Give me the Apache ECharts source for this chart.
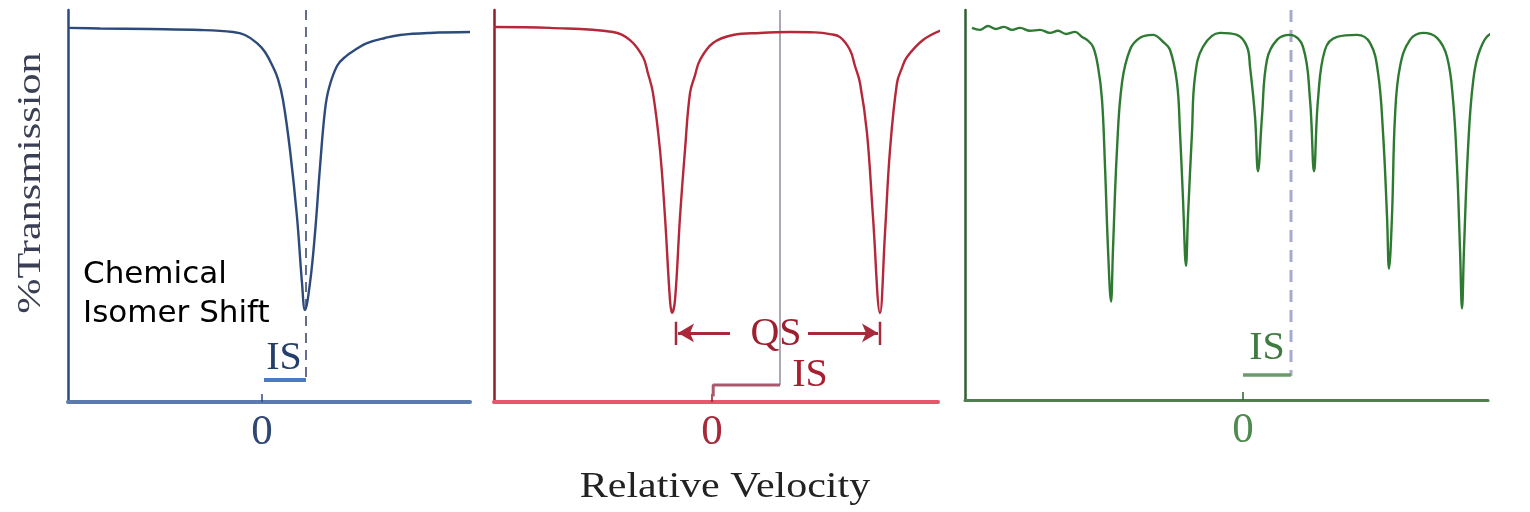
<!DOCTYPE html>
<html>
<head>
<meta charset="utf-8">
<script src="https://cdn.jsdelivr.net/npm/echarts@6/dist/echarts.min.js"></script>
<style>
html,body{margin:0;padding:0;background:#fff;}
#chart{width:1530px;height:512px;}
</style>
</head>
<body>
<div id="chart"></div>
<script>
// ---------- DATA (relative velocity, % transmission) ----------
const blueV = [-4.85,-4.05,-2.8,-1.55,-0.725,-0.425,-0.125,0.075,0.275,0.4,0.525,0.7,0.875,1.0,1.075,1.2,1.325,1.45,1.575,1.675,1.875,2.075,2.4,2.625,3.075,3.45,4.2,5.2];
const blueT = [100.04,100.01,99.98,99.93,99.82,99.66,99.23,98.75,97.95,97.3,96.18,93.5,89.91,86.38,84.93,86.38,89.05,92.59,95.64,96.82,98.0,98.48,98.96,99.23,99.50,99.66,99.77,99.82];

const redV = [-5.45,-4.05,-2.475,-2.05,-1.725,-1.6,-1.475,-1.3,-1.175,-1.05,-1.0,-0.925,-0.8,-0.675,-0.55,-0.425,-0.3,0.025,0.525,1.2,1.95,2.575,2.95,3.2,3.45,3.575,3.7,3.875,4.025,4.2,4.325,4.45,4.625,4.75,4.875,5.275,5.75];
const redT = [100.09,100.04,99.82,99.39,98.48,97.6,96.55,93.5,89.91,85.46,84.77,85.46,89.91,93.5,96.55,97.5,98.32,99.23,99.66,99.77,99.82,99.80,99.71,99.55,98.86,98.0,97.09,94.41,89.91,84.77,89.05,93.5,97.09,97.9,98.48,99.39,99.93];

const greenV = [-6.775,-6.575,-6.375,-6.175,-5.975,-5.775,-5.575,-5.325,-5.075,-4.825,-4.625,-4.425,-4.2,-4.025,
  -3.9,-3.75,-3.625,-3.525,-3.45,-3.375,-3.3,-3.25,-3.15,-3.025,-2.825,-2.575,-2.25,-2.0,-1.825,-1.65,-1.575,-1.5,-1.425,-1.375,-1.275,-1.2,-1.0,-0.575,-0.15,
  0.1,0.175,0.3,0.375,0.475,0.6,0.85,1.175,1.5,1.675,1.775,1.875,2.05,2.35,2.85,3.175,3.375,3.5,3.6,3.65,3.725,3.8,3.925,4.175,4.5,4.85,5.1,5.25,5.35,5.425,5.475,5.525,5.625,5.75,5.925,6.25,6.6,7.0];
const greenT = [100.04,99.93,100.14,99.98,100.09,99.93,100.04,99.88,99.93,99.77,99.88,99.71,99.82,99.55,
  99.39,99.02,97.95,96.18,92.59,88.14,85.30,88.14,93.5,97.09,98.86,99.5,99.66,99.29,98.86,97.09,94.41,90.82,87.23,89.91,94.41,97.41,99.02,99.77,99.66,
  99.02,97.95,95.27,92.32,95.27,98.32,99.39,99.66,99.02,96.18,92.32,96.18,98.86,99.55,99.66,99.23,97.63,94.41,89.91,87.07,89.91,95.27,97.95,99.39,99.77,99.5,98.48,96.18,92.59,88.14,84.93,88.14,93.5,97.09,98.86,99.77,99.82,100.04];

// annotation values
const blueIS = 1.1;           // isomer shift, panel 1
const redIS = 1.7;            // isomer shift, panel 2
const redQS = [-1.0, 4.2];    // doublet line positions, panel 2
const greenIS = 1.2;          // isomer shift, panel 3
const tickValues = [0];
const tickLabel = '0';

// axis ranges
const xRanges = [[-4.85, 5.2], [-5.45, 5.65], [-6.95, 6.125]];
const yRange = [80, 101];

// ---------- helpers ----------
const zip = (a, b) => a.map((v, i) => [v, b[i]]);
const SERIF = '"Liberation Serif", "Times New Roman", serif';

function curve(idx, data, color) {
  return {
    type: 'line', xAxisIndex: idx, yAxisIndex: idx, data: data,
    showSymbol: false, smooth: 0.4, clip: false, silent: true,
    lineStyle: { color: color, width: 2.4 }, z: 5
  };
}
function seg(idx, data, color, width, type) {
  return {
    type: 'line', xAxisIndex: idx, yAxisIndex: idx, data: data,
    showSymbol: false, clip: false, silent: true,
    lineStyle: { color: color, width: width, type: type || 'solid', cap: 'butt' }, z: 3
  };
}
function txt(idx, pos, text, color, size) {
  return {
    type: 'scatter', xAxisIndex: idx, yAxisIndex: idx, data: [pos],
    symbolSize: 1, itemStyle: { color: 'transparent', opacity: 1 }, silent: true, clip: false,
    label: { show: true, position: 'inside', formatter: text, color: color, opacity: 1,
             textBorderWidth: 0, fontFamily: SERIF, fontSize: size }, z: 6
  };
}

const panels = [
  { left: 68, width: 402, height: 392, axisY: '#2c4a7a', axisX: '#5a7bab', axisXW: 4, label: '#2f4872' },
  { left: 494, width: 444, height: 392, axisY: '#8a1f2e', axisX: '#e8566c', axisXW: 4, label: '#a82a3a' },
  { left: 965, width: 523, height: 390, axisY: '#2f5f30', axisX: '#4f7d50', axisXW: 3, label: '#4f8a50' }
];

const grid = panels.map(p => ({ left: p.left, top: 10, width: p.width, height: p.height }));
const xAxis = panels.map((p, i) => ({
  type: 'value', gridIndex: i, min: xRanges[i][0], max: xRanges[i][1],
  splitLine: { show: false },
  axisLine: { show: true, onZero: false, lineStyle: { color: p.axisX, width: p.axisXW } },
  axisTick: { show: true, inside: true, length: 8, customValues: tickValues, lineStyle: { color: p.axisY, width: 1.5 } },
  axisLabel: { show: true, customValues: tickValues, formatter: () => tickLabel, margin: 9,
               fontFamily: SERIF, fontSize: 43, color: p.label }
}));
const yAxis = panels.map((p, i) => ({
  type: 'value', gridIndex: i, min: yRange[0], max: yRange[1],
  splitLine: { show: false }, axisTick: { show: false }, axisLabel: { show: false },
  axisLine: { show: true, onZero: false, lineStyle: { color: p.axisY, width: 2.5 } }
}));

const qsMid = (redQS[0] + redQS[1]) / 2;
const qsY = 83.7;

const series = [
  curve(0, zip(blueV, blueT), '#2c4a7a'),
  curve(1, zip(redV, redT), '#b4283a'),
  curve(2, zip(greenV, greenT), '#2f7a32'),

  // panel 1 annotations
  seg(0, [[blueIS, 101], [blueIS, 81.18]], '#3c4c70', 1.6, [10, 7]),
  seg(0, [[0.05, 81.18], [blueIS, 81.18]], '#4a7cc4', 4),
  txt(0, [blueIS / 2, 82.35], 'IS', '#24406a', 40),

  // panel 2 annotations
  seg(1, [[redIS, 101], [redIS, 80.91]], '#8e8e9e', 1.5),
  seg(1, [[0.03, 80.3], [0.03, 80.91], [redIS, 80.91]], '#a85a6c', 3),
  txt(1, [redIS + 0.75, 81.4], 'IS', '#a8202f', 40),
  txt(1, [qsMid, 83.6], 'QS', '#9c2030', 40),
  seg(1, [[redQS[0] + 0.1, 84.3], [redQS[0] + 0.1, 83.05]], '#a82a3a', 2.5),
  seg(1, [[redQS[1], 84.3], [redQS[1], 83.05]], '#a82a3a', 2.5),
  {
    type: 'line', xAxisIndex: 1, yAxisIndex: 1, data: [], silent: true,
    markLine: {
      silent: true, symbol: ['none', 'arrow'], symbolSize: [14, 16],
      label: { show: false },
      lineStyle: { color: '#a82a3a', width: 3, type: 'solid' },
      data: [
        [{ coord: [0.45, qsY] }, { coord: [redQS[0] + 0.15, qsY] }],
        [{ coord: [2.4, qsY] }, { coord: [redQS[1] - 0.05, qsY] }]
      ],
      animation: false
    }
  },

  // panel 3 annotations
  seg(2, [[greenIS, 101], [greenIS, 81.29]], '#a6abd0', 3, [12, 8]),
  seg(2, [[0, 81.34], [greenIS, 81.34]], '#6b9a6b', 3.5),
  txt(2, [greenIS / 2, 82.8], 'IS', '#3f7a40', 40)
];

const graphic = [
  { type: 'text', x: 31, y: 183, rotation: Math.PI / 2, scaleX: 1.28, silent: true,
    style: { text: '%Transmission', font: '33px ' + SERIF, fill: '#3a3f55', align: 'center', verticalAlign: 'middle' } },
  { type: 'text', x: 725, y: 488, scaleX: 1.2, silent: true,
    style: { text: 'Relative Velocity', font: '35px ' + SERIF, fill: '#222', align: 'center', verticalAlign: 'middle' } },
  { type: 'text', x: 83, y: 255, silent: true, z: 10,
    style: { text: 'Chemical\nIsomer Shift', font: '31px "DejaVu Sans", Verdana, sans-serif', lineHeight: 39,
             fill: '#000', align: 'left', verticalAlign: 'top' } }
];

const chart = echarts.init(document.getElementById('chart'), null, { renderer: 'canvas' });
chart.setOption({
  animation: false,
  backgroundColor: '#ffffff',
  grid: grid, xAxis: xAxis, yAxis: yAxis, series: series, graphic: graphic
});
</script>
</body>
</html>
